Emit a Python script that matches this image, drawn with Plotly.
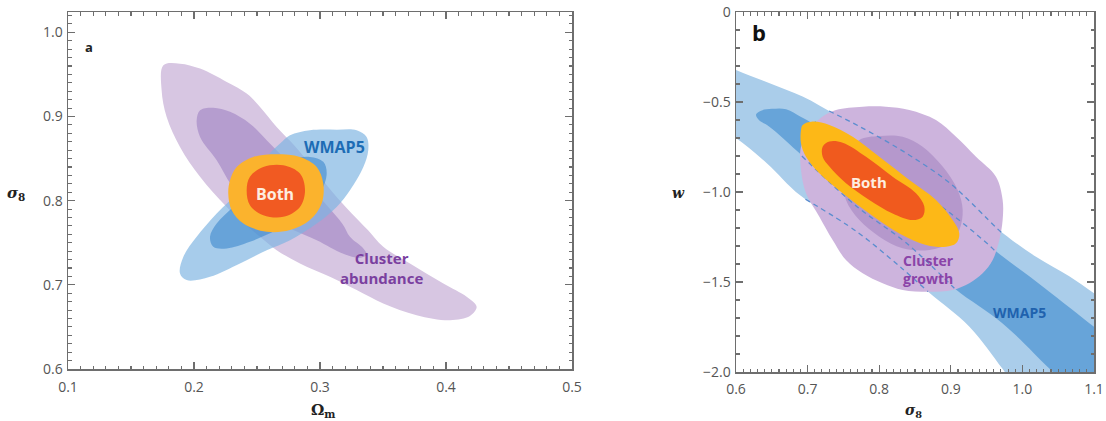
import plotly.graph_objects as go

# ---------------- Panel a : sigma8 vs Omega_m ----------------
a_clu_out_x = [0.1757, 0.1889, 0.2048, 0.226, 0.2418, 0.2524, 0.2656, 0.280, 0.295, 0.310, 0.325, 0.338,
               0.3502, 0.3714, 0.3979, 0.4164, 0.4243, 0.419, 0.4032, 0.3767, 0.3502, 0.3291, 0.3079,
               0.2841, 0.2656, 0.2524, 0.226, 0.2048, 0.1889, 0.1783, 0.1743]
a_clu_out_y = [0.9608, 0.9628, 0.9569, 0.941, 0.9272, 0.9113, 0.8876, 0.865, 0.838, 0.810, 0.785, 0.765,
               0.7452, 0.7254, 0.7017, 0.6859, 0.6739, 0.663, 0.658, 0.664, 0.6779, 0.6938, 0.7096,
               0.7254, 0.7412, 0.757, 0.7926, 0.8283, 0.8639, 0.8995, 0.9312]

a_clu_in_x = [0.2048, 0.2153, 0.2286, 0.2444, 0.2577, 0.272, 0.290, 0.305, 0.318, 0.3238, 0.3344, 0.3370,
              0.3317, 0.3185, 0.2974, 0.2788, 0.262, 0.245, 0.230, 0.218, 0.2048, 0.2021]
a_clu_in_y = [0.9074, 0.9105, 0.9055, 0.8915, 0.8718, 0.850, 0.820, 0.795, 0.772, 0.757, 0.7432, 0.736,
              0.732, 0.737, 0.7531, 0.765, 0.778, 0.795, 0.818, 0.848, 0.8757, 0.8955]

a_wmap_out_x = [0.2762, 0.292, 0.3132, 0.3291, 0.3370, 0.3383, 0.3344, 0.3238, 0.3132, 0.2974, 0.2762,
                0.2577, 0.2365, 0.2127, 0.1942, 0.1889, 0.1915, 0.2021, 0.218, 0.2365, 0.255, 0.2683]
a_wmap_out_y = [0.8777, 0.8837, 0.8844, 0.8837, 0.8757, 0.86, 0.8401, 0.8125, 0.7926, 0.7728, 0.7531,
                0.7412, 0.7254, 0.7096, 0.7056, 0.7135, 0.7332, 0.757, 0.7847, 0.8125, 0.848, 0.8678]

a_wmap_in_x = [0.2127, 0.2153, 0.226, 0.2444, 0.2656, 0.2841, 0.300, 0.3053, 0.3026, 0.292, 0.2762,
               0.2524, 0.2312, 0.218]
a_wmap_in_y = [0.757, 0.7452, 0.7432, 0.7511, 0.765, 0.7808, 0.8085, 0.8322, 0.8461, 0.852, 0.848,
               0.8203, 0.7926, 0.7728]

a_both_out_x = [0.2286, 0.2339, 0.2471, 0.2656, 0.2841, 0.2974, 0.3026, 0.3013, 0.292, 0.2762, 0.2577,
                0.2392, 0.2299, 0.2272]
a_both_out_y = [0.8243, 0.8401, 0.852, 0.8552, 0.852, 0.8401, 0.8203, 0.7966, 0.7769, 0.765, 0.763,
                0.7728, 0.7887, 0.8085]

a_both_in_x = [0.2418, 0.2444, 0.255, 0.2709, 0.2841, 0.2881, 0.2841, 0.2709, 0.255, 0.2444]
a_both_in_y = [0.8125, 0.8283, 0.8401, 0.8421, 0.8322, 0.8125, 0.7926, 0.7808, 0.7828, 0.7947]

a_xticks = [0.1, 0.2, 0.3, 0.4, 0.5]
a_xticklabels = ["0.1", "0.2", "0.3", "0.4", "0.5"]
a_yticks = [0.6, 0.7, 0.8, 0.9, 1.0]
a_yticklabels = ["0.6", "0.7", "0.8", "0.9", "1.0"]

# ---------------- Panel b : w vs sigma8 ----------------
b_wmap_out_x = [0.57, 0.6, 0.647, 0.693, 0.74, 0.773, 0.838, 0.899, 0.964, 1.019, 1.066, 1.1, 1.14,
                1.14, 0.995, 0.972, 0.926, 0.87, 0.829, 0.7686, 0.69, 0.643, 0.6, 0.57]
b_wmap_out_y = [-0.27, -0.322, -0.396, -0.47, -0.572, -0.637, -0.785, -0.952, -1.20, -1.36, -1.47, -1.563, -1.67,
                -2.1, -2.1, -1.98, -1.748, -1.56, -1.415, -1.22, -1.02, -0.84, -0.70, -0.63]

b_wmap_in_x = [0.628, 0.635, 0.65, 0.67, 0.693, 0.75, 0.82, 0.90, 0.96, 1.03, 1.1, 1.14,
               1.14, 1.07, 1.0376, 0.9724, 0.905, 0.8384, 0.7686, 0.693, 0.6466, 0.632]
b_wmap_in_y = [-0.57, -0.548, -0.538, -0.54, -0.588, -0.72, -0.90, -1.12, -1.32, -1.53, -1.748, -1.87,
               -2.1, -2.1, -1.98, -1.73, -1.535, -1.285, -1.08, -0.80, -0.637, -0.60]

b_clu_out_x = [0.7397, 0.7769, 0.8095, 0.8421, 0.8793, 0.9073, 0.9352, 0.9631, 0.9724, 0.9724, 0.9678,
               0.9585, 0.9445, 0.9259, 0.9026, 0.87, 0.8328, 0.8048, 0.7769, 0.7536, 0.735, 0.7164,
               0.6978, 0.6908, 0.6908, 0.7024, 0.721]
b_clu_out_y = [-0.544, -0.526, -0.526, -0.544, -0.6, -0.693, -0.804, -0.915, -1.044, -1.156, -1.267,
               -1.378, -1.452, -1.507, -1.544, -1.554, -1.544, -1.507, -1.452, -1.378, -1.267, -1.137,
               -1.007, -0.878, -0.748, -0.656, -0.581]

b_clu_in_x = [0.7723, 0.8002, 0.8328, 0.8607, 0.8886, 0.9096, 0.9166, 0.9119, 0.8979, 0.87, 0.8328,
              0.8002, 0.7723, 0.7536, 0.749, 0.7536]
b_clu_in_y = [-0.711, -0.689, -0.693, -0.748, -0.859, -0.989, -1.1, -1.211, -1.285, -1.322, -1.313,
              -1.248, -1.156, -1.044, -0.915, -0.804]

b_both_out_x = [0.6908, 0.6931, 0.7071, 0.7304, 0.7629, 0.8002, 0.8421, 0.8793, 0.9026, 0.9119, 0.9073,
                0.8933, 0.8654, 0.8281, 0.7862, 0.749, 0.7164, 0.6978, 0.6908]
b_both_out_y = [-0.656, -0.628, -0.609, -0.628, -0.693, -0.804, -0.933, -1.044, -1.156, -1.23, -1.285,
                -1.304, -1.294, -1.23, -1.119, -1.007, -0.896, -0.804, -0.73]

b_both_in_x = [0.721, 0.7304, 0.749, 0.7816, 0.8188, 0.8514, 0.863, 0.8607, 0.8467, 0.8188, 0.7862,
               0.7536, 0.7304, 0.721]
b_both_in_y = [-0.748, -0.72, -0.726, -0.804, -0.915, -1.007, -1.081, -1.137, -1.156, -1.119, -1.044,
               -0.952, -0.859, -0.804]

# WMAP5 contour edges that show through the cluster-growth region (dashed)
b_dash1_x = [0.73, 0.773, 0.838, 0.899, 0.964, 0.971]
b_dash1_y = [-0.55, -0.637, -0.785, -0.952, -1.20, -1.225]
b_dash2_x = [0.71, 0.75, 0.82, 0.90, 0.96, 0.963]
b_dash2_y = [-0.61, -0.72, -0.90, -1.12, -1.32, -1.335]
b_dash3_x = [0.692, 0.7686, 0.8384, 0.905]
b_dash3_y = [-0.80, -1.08, -1.285, -1.535]
b_dash4_x = [0.697, 0.7686, 0.829, 0.868]
b_dash4_y = [-1.04, -1.22, -1.415, -1.553]

b_xticks = [0.6, 0.7, 0.8, 0.9, 1.0, 1.1]
b_xticklabels = ["0.6", "0.7", "0.8", "0.9", "1.0", "1.1"]
b_yticks = [-2.0, -1.5, -1.0, -0.5, 0.0]
b_yticklabels = ["\u22122.0", "\u22121.5", "\u22121.0", "\u22120.5", "0"]

# ---------------- Figure ----------------
W, H = 1106, 421


def px(x):      # window pixel x -> paper fraction
    return x / W


def py(y):      # window pixel y -> paper fraction
    return (H - y) / H


fig = go.Figure()


def region(x, y, color, xa, ya):
    fig.add_trace(go.Scatter(x=x + [x[0]], y=y + [y[0]], mode="lines", fill="toself",
                             fillcolor=color, line=dict(width=0, color=color, shape="spline", smoothing=1.0),
                             hoverinfo="skip", showlegend=False, xaxis=xa, yaxis=ya))


def dashed(x, y):
    fig.add_trace(go.Scatter(x=x, y=y, mode="lines",
                             line=dict(width=1.3, color="#5b8dcf", dash="5px,4px", shape="spline"),
                             hoverinfo="skip", showlegend=False, xaxis="x2", yaxis="y2"))


# panel a
region(a_clu_out_x, a_clu_out_y, "#d7c6e2", "x", "y")
region(a_clu_in_x, a_clu_in_y, "#b59dcf", "x", "y")
region(a_wmap_out_x, a_wmap_out_y, "rgba(126,180,226,0.68)", "x", "y")
region(a_wmap_in_x, a_wmap_in_y, "rgba(60,135,205,0.6)", "x", "y")
region(a_both_out_x, a_both_out_y, "#fbb32d", "x", "y")
region(a_both_in_x, a_both_in_y, "#f15a22", "x", "y")

# panel b
region(b_wmap_out_x, b_wmap_out_y, "#aacdea", "x2", "y2")
region(b_wmap_in_x, b_wmap_in_y, "#67a4d9", "x2", "y2")
region(b_clu_out_x, b_clu_out_y, "#cdb4dd", "x2", "y2")
region(b_clu_in_x, b_clu_in_y, "#b598cc", "x2", "y2")
dashed(b_dash1_x, b_dash1_y)
dashed(b_dash2_x, b_dash2_y)
dashed(b_dash3_x, b_dash3_y)
dashed(b_dash4_x, b_dash4_y)
region(b_both_out_x, b_both_out_y, "#fdb817", "x2", "y2")
region(b_both_in_x, b_both_in_y, "#f05a1e", "x2", "y2")

axis_col = "#6e6e6e"
tick_font = dict(family="Open Sans, sans-serif", size=14, color="#555555")


def axis_style(domain, rng, tickvals, ticktext, minor_dtick, anchor, standoff):
    return dict(domain=domain, range=rng, tickmode="array", tickvals=tickvals, ticktext=ticktext,
                ticks="inside", ticklen=7, tickwidth=1.3, tickcolor=axis_col,
                minor=dict(dtick=minor_dtick, ticks="inside", ticklen=3.5, tickwidth=1.1,
                           tickcolor=axis_col, showgrid=False),
                showline=True, linecolor=axis_col, linewidth=1.5, mirror="ticks",
                showgrid=False, zeroline=False, tickfont=tick_font, anchor=anchor,
                ticklabelstandoff=standoff, automargin=False, fixedrange=True)


fig.update_layout(
    template="none",
    width=W, height=H,
    margin=dict(l=0, r=0, t=0, b=0, pad=0, autoexpand=False),
    paper_bgcolor="white", plot_bgcolor="white",
    xaxis=dict(**axis_style([px(68), px(572)], [0.1, 0.5], a_xticks, a_xticklabels, 0.01, "y", 5)),
    yaxis=dict(**axis_style([py(369), py(12.3)], [0.6, 1.0238], a_yticks, a_yticklabels, 0.01, "x", 1)),
    xaxis2=dict(**axis_style([px(736), px(1094)], [0.6, 1.1], b_xticks, b_xticklabels, 0.01, "y2", 4)),
    yaxis2=dict(**axis_style([py(372), py(12)], [-2.0, 0.0], b_yticks, b_yticklabels, 0.1, "x2", 1)),
)

lab = "Open Sans, sans-serif"
ann = [
    dict(x=0.1167, y=0.9826, xref="x", yref="y", text="<b>a</b>",
         font=dict(family=lab, size=13, color="#222222")),
    dict(x=0.264, y=0.808, xref="x", yref="y", text="<b>Both</b>",
         font=dict(family=lab, size=16, color="#fdeee0")),
    dict(x=0.3119, y=0.8639, xref="x", yref="y", text="<b>WMAP5</b>",
         font=dict(family=lab, size=16, color="#1d6cb5")),
    dict(x=0.349, y=0.7195, xref="x", yref="y", text="<b>Cluster<br>abundance</b>",
         font=dict(family=lab, size=15, color="#7a3f9f")),
    dict(x=0.632, y=-0.11, xref="x2", yref="y2", text="<b>b</b>",
         font=dict(family=lab, size=22, color="#111111")),
    dict(x=0.7862, y=-0.943, xref="x2", yref="y2", text="<b>Both</b>",
         font=dict(family=lab, size=15, color="#fdeee0")),
    dict(x=0.869, y=-1.43, xref="x2", yref="y2", text="<b>Cluster<br>growth</b>",
         font=dict(family=lab, size=14, color="#8a43a8")),
    dict(x=0.9957, y=-1.668, xref="x2", yref="y2", text="<b>WMAP5</b>",
         font=dict(family=lab, size=14, color="#1f62ae")),
    # axis titles
    dict(x=px(16), y=py(193), xref="paper", yref="paper", text="<b><i>σ</i><sub>8</sub></b>",
         font=dict(family="DejaVu Serif, serif", size=15, color="#222222")),
    dict(x=px(323), y=py(410), xref="paper", yref="paper", text="<b>Ω<sub>m</sub></b>",
         font=dict(family="DejaVu Serif, serif", size=15, color="#222222")),
    dict(x=px(678), y=py(193), xref="paper", yref="paper", text="<b><i>w</i></b>",
         font=dict(family="DejaVu Serif, serif", size=14, color="#222222")),
    dict(x=px(913), y=py(411), xref="paper", yref="paper", text="<b><i>σ</i><sub>8</sub></b>",
         font=dict(family="DejaVu Serif, serif", size=14, color="#222222")),
]
for a in ann:
    a.update(showarrow=False, xanchor="center", yanchor="middle")
fig.update_layout(annotations=ann)

# place the figure at the window's top-left corner (remove the default page margin)
fig.write_html("out.html", config={"displayModeBar": False, "staticPlot": True},
               post_script="document.body.style.margin='0px';")
